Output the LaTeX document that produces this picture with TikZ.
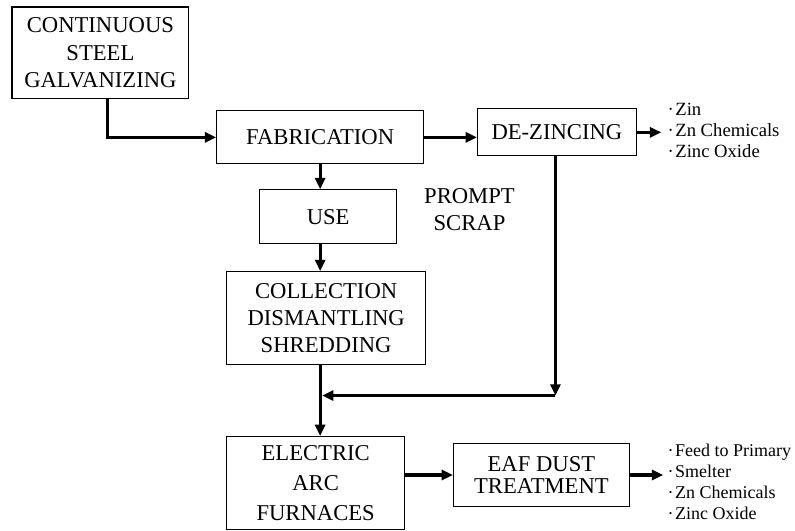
\documentclass[tikz,border=0pt]{standalone}
\usepackage{fontspec}
\setmainfont{Liberation Serif}
\usetikzlibrary{arrows.meta}

\newcommand{\dotitem}{·\kern1.2pt}

\tikzset{
  procbox/.style={draw, line width=0.8pt, inner sep=0pt, align=center, font=\fontsize{17}{20.5}\selectfont},
  flow/.style={line width=2.4pt, -{Triangle[length=8.5pt,width=7.5pt]}},
  outlist/.style={anchor=west, inner sep=4.5pt, align=left, font=\fontsize{13.5}{15.75}\selectfont},
}

\begin{document}
\begin{tikzpicture}[x=0.75pt,y=0.75pt,yscale=-1,xscale=1]
%set diagram frame to the full 795 x 531 area
\path (0,0) rectangle (795,531);

% Text Node
\node [procbox, minimum width=132.75pt, minimum height=69pt] (galv) at (100.5,53) {CONTINUOUS\\STEEL\\GALVANIZING};
% Text Node
\node [procbox, minimum width=155.25pt, minimum height=39.75pt] (fab) at (320.5,137.5) {FABRICATION};
% Text Node
\node [procbox, minimum width=119.25pt, minimum height=35.25pt] (dezinc) at (557.5,132.5) {DE-ZINCING};
% Text Node
\node [procbox, minimum width=102.75pt, minimum height=40.5pt] (use) at (328.5,217) {USE};
% Text Node
\node [procbox, minimum width=149.25pt, minimum height=69.75pt] (coll) at (326.5,318.5) {COLLECTION\\DISMANTLING\\SHREDDING};
% Text Node
\node [procbox, minimum width=133.5pt, minimum height=69.75pt, font=\fontsize{17}{22.5}\selectfont] (elec) at (316,483.5) {ELECTRIC\\ARC\\FURNACES};
% Text Node
\node [procbox, minimum width=132pt, minimum height=47.25pt, font=\fontsize{17}{17}\selectfont] (eaf) at (542,475.5) {EAF DUST\\TREATMENT};

% Label
\node [align=center, font=\fontsize{17}{20.5}\selectfont] (prompt) at (470,209.5) {PROMPT\\SCRAP};
% Products
\node [outlist, font=\fontsize{14}{15.75}\selectfont] (zinclist) at (662,131) {\dotitem Zin\\\dotitem Zn Chemicals\\\dotitem Zinc Oxide};
\node [outlist, inner sep=3pt] (eaflist) at (664,482) {\dotitem Feed to Primary\\\dotitem Smelter\\\dotitem Zn Chemicals\\\dotitem Zinc Oxide};

% Connection
\coordinate (galvbend) at (108,137.5);
\draw [flow] (galv.south -| galvbend) |- (fab.west);
% Connection
\draw [flow] (fab.east) -- (fab.east -| dezinc.west);
% Connection
\draw [flow] (dezinc.east) -- (dezinc.east -| zinclist.west);
% Connection
\draw [flow] (fab.south) -- (fab.south |- use.north);
% Connection
\draw [flow] (fab.south |- use.south) -- (fab.south |- coll.north);
% Connection
\draw [flow] (fab.south |- coll.south) -- (fab.south |- elec.north);
% Connection
\coordinate (scrapturn) at (556,396);
\draw [flow] (dezinc.south -| scrapturn) -- (scrapturn);
\draw [flow, shorten >=1.5pt] (scrapturn) -- (fab.south |- scrapturn);
% Connection
\draw [flow] (eaf.west -| elec.east) -- (eaf.west);
% Connection
\draw [flow] (eaf.east) -- (eaf.east -| eaflist.west);

\end{tikzpicture}
\end{document}
